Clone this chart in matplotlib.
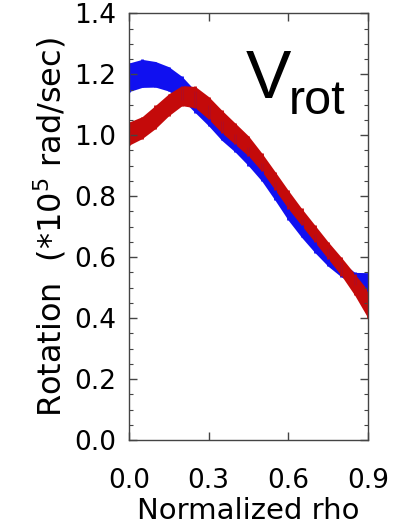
import numpy as np
import matplotlib.pyplot as plt
from matplotlib.ticker import MultipleLocator

# normalized rho grid
rho = [0.00, 0.05, 0.10, 0.15, 0.20, 0.25, 0.30, 0.35, 0.40, 0.45,
       0.50, 0.55, 0.60, 0.65, 0.70, 0.75, 0.80, 0.85, 0.90]

# blue profile (centre, half width)
blue_val = [1.190, 1.203, 1.200, 1.185, 1.155, 1.110, 1.065, 1.015, 0.975, 0.930,
            0.880, 0.817, 0.751, 0.695, 0.645, 0.600, 0.560, 0.530, 0.512]
blue_err = [0.047, 0.046, 0.042, 0.040, 0.038, 0.036, 0.034, 0.032, 0.030, 0.030,
            0.030, 0.030, 0.030, 0.030, 0.030, 0.030, 0.025, 0.020, 0.037]

# red profile (centre, half width)
red_val = [1.005, 1.025, 1.060, 1.100, 1.130, 1.125, 1.090, 1.045, 1.005, 0.965,
           0.912, 0.851, 0.789, 0.732, 0.677, 0.622, 0.569, 0.510, 0.445]
red_err = [0.038, 0.036, 0.038, 0.036, 0.033, 0.035, 0.037, 0.037, 0.035, 0.033,
           0.030, 0.030, 0.030, 0.028, 0.028, 0.028, 0.030, 0.035, 0.045]

fig = plt.figure(figsize=(3.94, 5.28), dpi=100)
ax = fig.add_axes([0.327, 0.1667, 0.607, 0.808])

def band(vals, errs, color):
    v = np.array(vals)
    e = np.array(errs)
    ax.fill_between(rho, v - e, v + e, color=color, linewidth=0)
    ax.errorbar(rho, v, yerr=e, fmt='none', ecolor=color, elinewidth=2, capsize=0)

band(blue_val, blue_err, '#1010f0')
band(red_val, red_err, '#c40a0a')

ax.set_xlim(0, 0.9)
ax.set_ylim(0, 1.4)
ax.xaxis.set_major_locator(MultipleLocator(0.3))
ax.yaxis.set_major_locator(MultipleLocator(0.2))
ax.yaxis.set_minor_locator(MultipleLocator(0.05))
ax.xaxis.set_major_formatter(plt.FormatStrFormatter('%.1f'))
ax.yaxis.set_major_formatter(plt.FormatStrFormatter('%.1f'))

for s in ax.spines.values():
    s.set_color('#444444')
    s.set_linewidth(1.0)
ax.tick_params(which='both', direction='in', top=True, right=True, colors='#444444',
               labelcolor='black', labelsize=19)
ax.tick_params(which='major', length=6, width=1)
ax.tick_params(which='minor', length=3, width=0.8)
ax.tick_params(axis='x', pad=20)
ax.tick_params(axis='y', pad=9)

ax.set_xlabel('Normalized rho', fontsize=21, labelpad=2)
ax.set_ylabel('Rotation  (*10$^5$ rad/sec)', fontsize=23, labelpad=4)

fam = ['Liberation Sans', 'DejaVu Sans']
fig.text(246 / 394, 1 - 98 / 528, 'V', fontsize=49, family=fam, ha='left', va='baseline')
fig.text(289 / 394, 1 - 114 / 528, 'rot', fontsize=35, family=fam, ha='left', va='baseline')

fig.savefig('out.png', dpi=100)
